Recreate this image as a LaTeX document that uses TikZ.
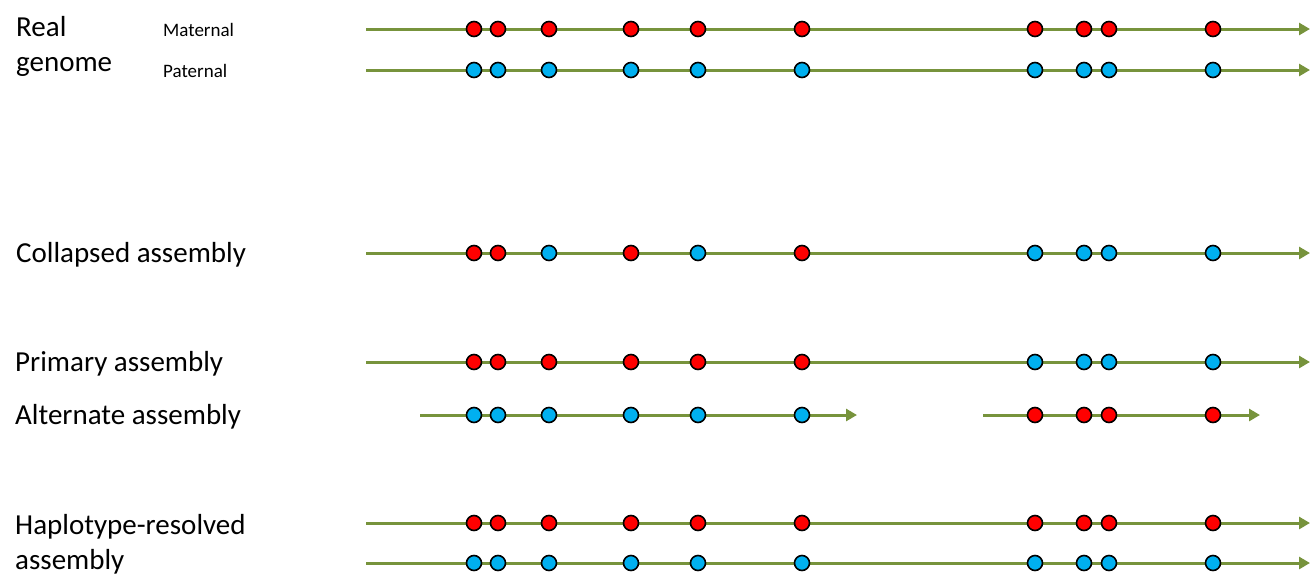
\documentclass[tikz,border=0pt]{standalone}
\usepackage{fontspec}
\setmainfont{Carlito}
\usetikzlibrary{arrows.meta}
\definecolor{lgreen}{HTML}{77933C}
\definecolor{mred}{HTML}{FF0000}
\definecolor{pblue}{HTML}{00B0F0}
\tikzset{
  gline/.style={draw=lgreen, line width=3pt, -{Triangle[length=11pt,width=12pt]}},
  mdot/.style={circle, draw=black, line width=1.6pt, fill=mred, minimum size=15pt, inner sep=0pt},
  pdot/.style={circle, draw=black, line width=1.6pt, fill=pblue, minimum size=15pt, inner sep=0pt},
  biglabel/.style={anchor=west, font=\fontsize{29}{35}\selectfont, align=left, inner sep=0pt},
  smalllabel/.style={anchor=west, font=\fontsize{19}{21}\selectfont, inner sep=0pt}
}
\begin{document}
\begin{tikzpicture}[x=1pt,y=-1pt]
\useasboundingbox (0,0) rectangle (1312,587);
% labels
\node[biglabel] (real) at (16,46) {Real\\genome};
\node[smalllabel] (mat) at (163,30) {Maternal};
\node[smalllabel] (pat) at (163,71) {Paternal};
\node[biglabel] (coll) at (16,255) {Collapsed assembly};
\node[biglabel] (prim) at (15,364) {Primary assembly};
\node[biglabel] (alt) at (15,417) {Alternate assembly};
\node[biglabel, text width=300pt] (hap) at (15,544) {Haplotype-resolved\\assembly};
% full-length lines
\foreach \n/\y in {rm/29, rp/70, co/253, pr/362, hm/523, hp/563}{
  \coordinate (\n s) at (366,\y);
  \coordinate (\n e) at (1310,\y);
  \draw[gline] (\n s) -- (\n e);
}
% alternate lines
\coordinate (a1s) at (420,415); \coordinate (a1e) at (857,415);
\coordinate (a2s) at (983,415); \coordinate (a2e) at (1260,415);
\draw[gline] (a1s) -- (a1e);
\draw[gline] (a2s) -- (a2e);
% dots
\foreach \i/\x in {1/474,2/498,3/549,4/631,5/698,6/802,7/1035,8/1084,9/1109,10/1213}{
  \node[mdot] (rm\i) at (\x,29) {};
  \node[pdot] (rp\i) at (\x,70) {};
  \node[mdot] (hm\i) at (\x,523) {};
  \node[pdot] (hp\i) at (\x,563) {};
}
% collapsed
\foreach \i/\x/\s in {1/474/mdot,2/498/mdot,3/549/pdot,4/631/mdot,5/698/pdot,6/802/mdot,7/1035/pdot,8/1084/pdot,9/1109/pdot,10/1213/pdot}{
  \node[\s] (co\i) at (\x,253) {};
}
% primary
\foreach \i/\x/\s in {1/474/mdot,2/498/mdot,3/549/mdot,4/631/mdot,5/698/mdot,6/802/mdot,7/1035/pdot,8/1084/pdot,9/1109/pdot,10/1213/pdot}{
  \node[\s] (pr\i) at (\x,362) {};
}
% alternate
\foreach \i/\x/\s in {1/474/pdot,2/498/pdot,3/549/pdot,4/631/pdot,5/698/pdot,6/802/pdot,7/1035/mdot,8/1084/mdot,9/1109/mdot,10/1213/mdot}{
  \node[\s] (al\i) at (\x,415) {};
}
\end{tikzpicture}
\end{document}
